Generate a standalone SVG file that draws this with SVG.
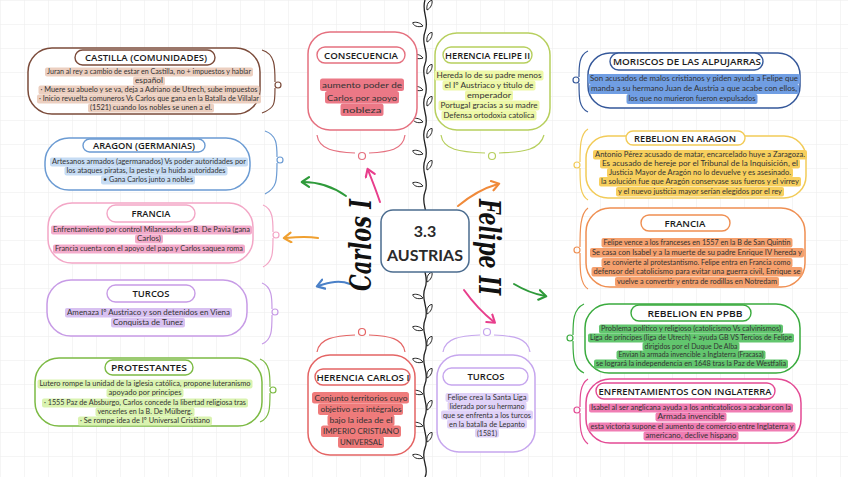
<svg xmlns="http://www.w3.org/2000/svg" width="848" height="477" viewBox="0 0 848 477">
<defs>
<pattern id="grid" width="24" height="24" patternUnits="userSpaceOnUse"><path d="M24 0H0V24" fill="none" stroke="#ececec" stroke-width="1"/></pattern>
<marker id="ah" viewBox="0 0 10 10" refX="6" refY="5" markerWidth="6" markerHeight="6" orient="auto-start-reverse"><path d="M1 1L7 5L1 9" fill="none" stroke="context-stroke" stroke-width="1.8" stroke-linecap="round" stroke-linejoin="round"/></marker>
<g id="lf"><path d="M0 0 C3 -5 8 -6 10 -4 C8 -1 4 1 0 0Z" fill="#fff" stroke="#222" stroke-width="0.9"/></g>
</defs>
<style>
.box{fill:#fff;stroke-width:1.5}
.pill{fill:#fff;stroke-width:1.4}
.t{font-family:"Open Sans","Noto Sans",sans-serif;font-weight:600;font-size:9.5px;fill:#1a1a1a;text-anchor:middle}
.b{font-family:Lato,"Open Sans",sans-serif;font-size:7.5px;fill:#333;text-anchor:middle}
.br{fill:none;stroke-width:1.2}
.ar{fill:none;stroke-width:2;stroke-linecap:round;marker-end:url(#ah)}
.vt{font-family:"DejaVu Serif",serif;font-weight:bold;font-style:italic;font-size:30px;fill:#111;text-anchor:middle}
</style>
<rect width="848" height="477" fill="#fff"/>
<rect width="848" height="477" fill="url(#grid)"/>

<g id="vine" fill="none" stroke="#222" stroke-width="1.3">
<path d="M425 0 C421 12 430 20 425 32 C420 44 430 52 425 64 C420 76 430 84 425 96 C420 108 430 116 425 128 C420 140 430 148 425 160 C420 172 430 180 425 192 C420 204 430 212 425 224 C420 236 430 244 425 256 C420 268 430 276 425 288 C420 300 430 308 425 320 C420 332 430 340 425 352 C420 364 430 372 425 384 C420 396 430 404 425 416 C420 428 430 436 425 448 C420 460 430 468 425 477"/>
<use href="#lf" transform="translate(427 10) rotate(-40)"/><use href="#lf" transform="translate(423 26) rotate(220)"/>
<use href="#lf" transform="translate(427 42) rotate(-40)"/><use href="#lf" transform="translate(423 58) rotate(220)"/>
<use href="#lf" transform="translate(427 74) rotate(-40)"/><use href="#lf" transform="translate(423 90) rotate(220)"/>
<use href="#lf" transform="translate(427 106) rotate(-40)"/><use href="#lf" transform="translate(423 122) rotate(220)"/>
<use href="#lf" transform="translate(427 138) rotate(-40)"/><use href="#lf" transform="translate(423 154) rotate(220)"/>
<use href="#lf" transform="translate(427 170) rotate(-40)"/><use href="#lf" transform="translate(423 186) rotate(220)"/>
<use href="#lf" transform="translate(427 282) rotate(-40)"/><use href="#lf" transform="translate(423 298) rotate(220)"/>
<use href="#lf" transform="translate(427 314) rotate(-40)"/><use href="#lf" transform="translate(423 330) rotate(220)"/>
<use href="#lf" transform="translate(427 346) rotate(-40)"/><use href="#lf" transform="translate(423 362) rotate(220)"/>
<use href="#lf" transform="translate(427 378) rotate(-40)"/><use href="#lf" transform="translate(423 394) rotate(220)"/>
<use href="#lf" transform="translate(427 410) rotate(-40)"/><use href="#lf" transform="translate(423 426) rotate(220)"/>
<use href="#lf" transform="translate(427 442) rotate(-40)"/><use href="#lf" transform="translate(423 458) rotate(220)"/>
</g>

<g id="connectors">
<path class="ar" stroke="#2e9a3a" d="M346 196 C332 186 318 182 303 182"/>
<path class="ar" stroke="#e83e8c" d="M380 202 C376 190 372 180 368 170"/>
<path class="ar" stroke="#f0a030" d="M318 238 C306 236 296 237 285 238"/>
<path class="ar" stroke="#4a80c8" d="M350 284 C340 280 330 282 318 286"/>
<path class="ar" stroke="#f08a3a" d="M458 206 C470 196 484 188 498 184"/>
<path class="ar" stroke="#e83e8c" d="M464 290 C474 304 484 314 494 322"/>
<path class="ar" stroke="#2e9a3a" d="M514 284 C524 290 534 294 545 296"/>
<g class="br">
<path stroke="#7b4b3a" d="M262 50 C275 54 275 66 275 82 M275 88 C275 104 275 108 262 113"/><circle cx="278" cy="85" r="3" fill="none" stroke="#7b4b3a"/>
<path stroke="#6b9bd3" d="M265 131 C277 135 277 145 277 157 M277 163 C277 180 277 188 265 194"/><circle cx="280" cy="160" r="3" fill="none" stroke="#6b9bd3"/>
<path stroke="#f3a6c6" d="M263 205 C273 209 273 220 273 232 M273 238 C273 252 273 262 263 267"/><circle cx="276" cy="235" r="3" fill="none" stroke="#f3a6c6"/>
<path stroke="#c79be6" d="M262 283 C272 287 272 298 272 309 M272 315 C272 330 272 340 262 344"/><circle cx="275" cy="312" r="3" fill="none" stroke="#c79be6"/>
<path stroke="#7cba44" d="M260 359 C270 363 270 375 270 387 M270 393 C270 408 270 418 260 422"/><circle cx="273" cy="390" r="3" fill="none" stroke="#7cba44"/>
<path stroke="#35589a" d="M588 51 C579 55 579 66 579 77 M579 83 C579 98 579 108 588 112"/><circle cx="576" cy="80" r="3" fill="none" stroke="#35589a"/>
<path stroke="#f2cb58" d="M588 129 C580 134 580 148 580 162 M580 168 C580 184 580 195 588 200"/><circle cx="577" cy="165" r="3" fill="none" stroke="#f2cb58"/>
<path stroke="#ef8f52" d="M588 208 C580 214 580 230 580 247 M580 253 C580 270 580 284 588 289"/><circle cx="577" cy="250" r="3" fill="none" stroke="#ef8f52"/>
<path stroke="#3aab3e" d="M584 304 C573 309 573 322 573 335 M573 341 C573 356 573 368 584 373"/><circle cx="570" cy="338" r="3" fill="none" stroke="#3aab3e"/>
<path stroke="#e34a94" d="M588 379 C580 384 580 396 580 407 M580 413 C580 426 580 438 588 444"/><circle cx="577" cy="410" r="3" fill="none" stroke="#e34a94"/>
<path stroke="#e5707f" d="M317 135 C319 150 335 152 355 153 M369 153 C389 152 403 150 405 135"/><circle cx="362" cy="156" r="3.5" fill="none" stroke="#e5707f"/>
<path stroke="#b7cf5e" d="M441 135 C443 150 460 152 485 153 M499 153 C524 152 540 150 544 135"/><circle cx="492" cy="156" r="3.5" fill="none" stroke="#b7cf5e"/>
<path stroke="#e46464" d="M317 352 C319 338 335 336 355 335 M369 335 C389 336 403 338 405 352"/><circle cx="362" cy="332" r="3.5" fill="none" stroke="#e46464"/>
<path stroke="#c6a6ee" d="M443 352 C445 338 460 336 480 335 M494 335 C514 336 528 338 530 352"/><circle cx="487" cy="332" r="3.5" fill="none" stroke="#c6a6ee"/>
</g>
</g>

<g id="center">
<rect x="381" y="210" width="88" height="62" rx="12" fill="#fff" stroke="#4b6c8f" stroke-width="1.5"/>
<text x="425" y="237" font-family="Lato,'Open Sans',sans-serif" font-weight="bold" font-size="16" fill="#2a2a2a" text-anchor="middle">3.3</text>
<text x="425" y="261" font-family="Lato,'Open Sans',sans-serif" font-weight="bold" font-size="16" fill="#2a2a2a" text-anchor="middle">AUSTRIAS</text>
</g>
<g id="carlos"><text class="vt" transform="translate(371 245) rotate(-90)" textLength="92" lengthAdjust="spacingAndGlyphs">Carlos  I</text></g>
<g id="felipe"><text class="vt" transform="translate(479 247) rotate(90)" textLength="96" lengthAdjust="spacingAndGlyphs">Felipe  II</text></g>

<g id="castilla">
<rect class="box" x="28" y="48" width="232" height="66" rx="24" stroke="#7b4b3a"/>
<rect class="pill" x="75" y="50" width="140" height="15" rx="7.5" stroke="#7b4b3a"/>
<text class="t" x="146" y="61" textLength="122" lengthAdjust="spacingAndGlyphs">CASTILLA (COMUNIDADES)</text>
<g fill="#eccfc0"><rect x="45" y="67.5" width="208" height="9" rx="2"/><rect x="133" y="76.5" width="32" height="9" rx="2"/><rect x="38.5" y="85.5" width="221" height="9" rx="2"/><rect x="37" y="94.5" width="224" height="9" rx="2"/><rect x="88" y="103.5" width="126" height="9" rx="2"/></g>
<text class="b" x="149" y="74" textLength="204" lengthAdjust="spacingAndGlyphs">Juran al rey a cambio de estar en Castilla, no + impuestos y hablar</text>
<text class="b" x="149" y="83" textLength="28" lengthAdjust="spacingAndGlyphs">español</text>
<text class="b" x="149" y="92" textLength="217" lengthAdjust="spacingAndGlyphs">·  Muere su abuelo y se va, deja a Adriano de Utrech, sube impuestos</text>
<text class="b" x="149" y="101" textLength="220" lengthAdjust="spacingAndGlyphs">·  Inicio revuelta comuneros Vs Carlos que gana en la Batalla de Villalar</text>
<text class="b" x="151" y="110" textLength="122" lengthAdjust="spacingAndGlyphs">(1521) cuando los nobles se unen a el.</text>
</g>

<g id="aragon">
<rect class="box" x="45" y="138" width="205" height="52" rx="24" stroke="#6b9bd3"/>
<rect class="pill" x="83" y="139" width="122" height="13" rx="6.5" stroke="#6b9bd3"/>
<text class="t" x="144" y="149" textLength="102" lengthAdjust="spacingAndGlyphs">ARAGON (GERMANIAS)</text>
<g fill="#c6dcf4"><rect x="50" y="157.5" width="198" height="9" rx="2"/><rect x="64.5" y="166.5" width="163" height="9" rx="2"/><rect x="101" y="175.5" width="94" height="9" rx="2"/></g>
<text class="b" x="149" y="164" textLength="194" lengthAdjust="spacingAndGlyphs">Artesanos armados (agermanados) Vs poder autoridades por</text>
<text class="b" x="146" y="173" textLength="159" lengthAdjust="spacingAndGlyphs">los ataques piratas, la peste y la huida autoridades</text>
<text class="b" x="148" y="182" textLength="90" lengthAdjust="spacingAndGlyphs">• Gana Carlos junto a nobles</text>
</g>

<g id="francia-l">
<rect class="box" x="48" y="203" width="205" height="60" rx="24" stroke="#f3a6c6"/>
<rect class="pill" x="107" y="205" width="88" height="17" rx="8.5" stroke="#f3a6c6"/>
<text class="t" x="151" y="217" textLength="39" lengthAdjust="spacingAndGlyphs">FRANCIA</text>
<g fill="#f3abcb"><rect x="51" y="225.5" width="201" height="9" rx="2"/><rect x="135" y="234.5" width="28" height="9" rx="2"/><rect x="53" y="244.5" width="192" height="9" rx="2"/></g>
<text class="b" x="151.5" y="232" textLength="197" lengthAdjust="spacingAndGlyphs">Enfrentamiento por control Milanesado en B. De Pavia (gana</text>
<text class="b" x="149" y="241" textLength="24" lengthAdjust="spacingAndGlyphs">Carlos)</text>
<text class="b" x="149" y="251" textLength="188" lengthAdjust="spacingAndGlyphs">Francia cuenta con el apoyo del papa y Carlos saquea roma</text>
</g>

<g id="turcos-l">
<rect class="box" x="47" y="280" width="200" height="56" rx="24" stroke="#c79be6"/>
<rect class="pill" x="107" y="285" width="88" height="17" rx="8.5" stroke="#c79be6"/>
<text class="t" x="151" y="297" textLength="37" lengthAdjust="spacingAndGlyphs">TURCOS</text>
<g fill="#d8c1f1"><rect x="65" y="308" width="167" height="9.5" rx="2"/><rect x="111" y="318" width="74" height="9.5" rx="2"/></g>
<text class="b" x="148.5" y="315" font-size="8" textLength="163" lengthAdjust="spacingAndGlyphs">Amenaza Iº Austriaco y son detenidos en Viena</text>
<text class="b" x="148" y="325" font-size="8" textLength="70" lengthAdjust="spacingAndGlyphs">Conquista de Tunez</text>
</g>

<g id="protestantes">
<rect class="box" x="35" y="358" width="227" height="68" rx="24" stroke="#7cba44"/>
<rect class="pill" x="105" y="360" width="88" height="15" rx="7.5" stroke="#7cba44"/>
<text class="t" x="149" y="371" textLength="76" lengthAdjust="spacingAndGlyphs">PROTESTANTES</text>
<g fill="#daf3b0"><rect x="37.5" y="379.5" width="215" height="9" rx="2"/><rect x="106.5" y="388.5" width="77" height="9" rx="2"/><rect x="42" y="398.5" width="206" height="9" rx="2"/><rect x="95.5" y="407.5" width="99" height="9" rx="2"/><rect x="78" y="416.5" width="134" height="9" rx="2"/></g>
<text class="b" x="145" y="386" textLength="211" lengthAdjust="spacingAndGlyphs">Lutero rompe la unidad de la iglesia católica, propone luteranismo</text>
<text class="b" x="145" y="395" textLength="73" lengthAdjust="spacingAndGlyphs">apoyado por principes</text>
<text class="b" x="145" y="405" textLength="202" lengthAdjust="spacingAndGlyphs">· 1555 Paz de Absburgo, Carlos concede la libertad religiosa tras</text>
<text class="b" x="145" y="414" textLength="95" lengthAdjust="spacingAndGlyphs">vencerles en la B. De Mülberg.</text>
<text class="b" x="145" y="423" textLength="130" lengthAdjust="spacingAndGlyphs">·  Se rompe idea de Iº Universal Cristiano</text>
</g>

<g id="consecuencia">
<rect class="box" x="308" y="32" width="109" height="98" rx="22" stroke="#e5707f"/>
<rect class="pill" x="317" y="47" width="88" height="16" rx="8" stroke="#e5707f"/>
<text class="t" x="361" y="59" textLength="74" lengthAdjust="spacingAndGlyphs">CONSECUENCIA</text>
<g fill="#eb7886"><rect x="320" y="78.5" width="84" height="12.5" rx="2.5"/><rect x="325" y="91" width="74" height="12.5" rx="2.5"/><rect x="340.5" y="103.5" width="43" height="12.5" rx="2.5"/></g>
<text class="b" x="362" y="88" font-size="10.5" textLength="80" lengthAdjust="spacingAndGlyphs">aumento poder de</text>
<text class="b" x="362" y="100.5" font-size="10.5" textLength="70" lengthAdjust="spacingAndGlyphs">Carlos por apoyo</text>
<text class="b" x="362" y="113" font-size="10.5" textLength="39" lengthAdjust="spacingAndGlyphs">nobleza</text>
</g>

<g id="herencia-felipe">
<rect class="box" x="435" y="33" width="115" height="97" rx="22" stroke="#b7cf5e"/>
<rect class="pill" x="443" y="47" width="89" height="16" rx="8" stroke="#b7cf5e"/>
<text class="t" x="487.5" y="59" textLength="85" lengthAdjust="spacingAndGlyphs">HERENCIA FELIPE II</text>
<g fill="#eef8a8"><rect x="434.5" y="70.5" width="109" height="10" rx="2"/><rect x="442.5" y="80.5" width="93" height="10" rx="2"/><rect x="465" y="90.5" width="48" height="10" rx="2"/><rect x="438.5" y="100.5" width="101" height="10" rx="2"/><rect x="441.5" y="110.5" width="95" height="10" rx="2"/></g>
<text class="b" x="489" y="78" font-size="9" textLength="105" lengthAdjust="spacingAndGlyphs">Hereda lo de su padre menos</text>
<text class="b" x="489" y="88" font-size="9" textLength="89" lengthAdjust="spacingAndGlyphs">el Iº Austriaco y titulo de</text>
<text class="b" x="489" y="98" font-size="9" textLength="44" lengthAdjust="spacingAndGlyphs">emperador</text>
<text class="b" x="489" y="108" font-size="9" textLength="97" lengthAdjust="spacingAndGlyphs">Portugal gracias a su madre</text>
<text class="b" x="489" y="118" font-size="9" textLength="91" lengthAdjust="spacingAndGlyphs">Defensa ortodoxia catolica</text>
</g>

<g id="herencia-carlos">
<rect class="box" x="308" y="355" width="107" height="100" rx="22" stroke="#e46464"/>
<rect class="pill" x="315" y="369" width="95" height="16" rx="8" stroke="#e46464"/>
<text class="t" x="363" y="381" textLength="93" lengthAdjust="spacingAndGlyphs">HERENCIA CARLOS I</text>
<g fill="#ef7b7b"><rect x="312" y="392" width="97" height="11.5" rx="2.5"/><rect x="318" y="403.5" width="85" height="11.5" rx="2.5"/><rect x="327.5" y="414.5" width="67" height="11.5" rx="2.5"/><rect x="321" y="425.5" width="80" height="11.5" rx="2.5"/><rect x="338" y="436.5" width="46" height="11.5" rx="2.5"/></g>
<text class="b" x="361" y="401" font-size="10" textLength="93" lengthAdjust="spacingAndGlyphs">Conjunto territorios cuyo</text>
<text class="b" x="361" y="412" font-size="10" textLength="81" lengthAdjust="spacingAndGlyphs">objetivo era intégralos</text>
<text class="b" x="361" y="423" font-size="10" textLength="63" lengthAdjust="spacingAndGlyphs">bajo la idea de el</text>
<text class="b" x="361" y="434" font-size="10" textLength="76" lengthAdjust="spacingAndGlyphs">IMPERIO CRISTIANO</text>
<text class="b" x="361" y="445" font-size="10" textLength="42" lengthAdjust="spacingAndGlyphs">UNIVERSAL</text>
</g>

<g id="turcos-c">
<rect class="box" x="437" y="355" width="98" height="97" rx="22" stroke="#c6a6ee"/>
<rect class="pill" x="443" y="368" width="85" height="17" rx="8.5" stroke="#c6a6ee"/>
<text class="t" x="486" y="380" textLength="37" lengthAdjust="spacingAndGlyphs">TURCOS</text>
<g fill="#e0d2f8"><rect x="445.5" y="393" width="83" height="9" rx="2"/><rect x="447.5" y="401.5" width="79" height="9" rx="2"/><rect x="441" y="410.5" width="92" height="9" rx="2"/><rect x="447" y="419.5" width="80" height="9" rx="2"/><rect x="475" y="428.5" width="24" height="9" rx="2"/></g>
<text class="b" x="487" y="400" font-size="8" textLength="79" lengthAdjust="spacingAndGlyphs">Felipe crea la Santa Liga</text>
<text class="b" x="487" y="408.5" font-size="8" textLength="75" lengthAdjust="spacingAndGlyphs">liderada por su hermano</text>
<text class="b" x="487" y="417.5" font-size="8" textLength="88" lengthAdjust="spacingAndGlyphs">que se enfrenta a los turcos</text>
<text class="b" x="487" y="426.5" font-size="8" textLength="76" lengthAdjust="spacingAndGlyphs">en la batalla de Lepanto</text>
<text class="b" x="487" y="435.5" font-size="8" textLength="20" lengthAdjust="spacingAndGlyphs">(1581)</text>
</g>

<g id="moriscos">
<rect class="box" x="588" y="53" width="212" height="55" rx="22" stroke="#35589a"/>
<rect class="pill" x="610" y="53" width="153" height="17" rx="8.5" stroke="#35589a"/>
<text class="t" x="687" y="65" font-size="10" textLength="148" lengthAdjust="spacingAndGlyphs">MORISCOS DE LAS ALPUJARRAS</text>
<g fill="#709ee3"><rect x="588" y="74" width="212" height="10" rx="2"/><rect x="589" y="84" width="210" height="10" rx="2"/><rect x="626.5" y="94" width="131" height="10" rx="2"/></g>
<text class="b" x="694" y="81" font-size="8" fill="#1d2b44" textLength="208" lengthAdjust="spacingAndGlyphs">Son acusados de malos cristianos y piden ayuda a Felipe que</text>
<text class="b" x="694" y="91" font-size="8" fill="#1d2b44" textLength="206" lengthAdjust="spacingAndGlyphs">manda a su hermano Juan de Austria a que acabe con ellos,</text>
<text class="b" x="692" y="101" font-size="8" fill="#1d2b44" textLength="127" lengthAdjust="spacingAndGlyphs">los que no murieron fueron expulsados</text>
</g>

<g id="rebelion-aragon">
<rect class="box" x="586" y="136" width="220" height="62" rx="22" stroke="#f2cb58"/>
<rect class="pill" x="626" y="131" width="119" height="14" rx="7" stroke="#f2cb58"/>
<text class="t" x="685" y="142" textLength="102" lengthAdjust="spacingAndGlyphs">REBELION EN ARAGON</text>
<g fill="#f7cf5d"><rect x="593" y="150" width="214" height="9.5" rx="2"/><rect x="600" y="159" width="200" height="9.5" rx="2"/><rect x="607" y="168" width="186" height="9.5" rx="2"/><rect x="599" y="177" width="202" height="9.5" rx="2"/><rect x="616" y="187" width="168" height="9.5" rx="2"/></g>
<text class="b" x="700" y="157" font-size="8" textLength="210" lengthAdjust="spacingAndGlyphs">Antonio Pérez acusado de matar, encarcelado huye a Zaragoza.</text>
<text class="b" x="700" y="166" font-size="8" textLength="196" lengthAdjust="spacingAndGlyphs">Es acusado de hereje por el Tribunal de la Inquisición, el</text>
<text class="b" x="700" y="175" font-size="8" textLength="182" lengthAdjust="spacingAndGlyphs">Justicia Mayor de Aragón no lo devuelve y es asesinado.</text>
<text class="b" x="700" y="184" font-size="8" textLength="198" lengthAdjust="spacingAndGlyphs">la solución fue que Aragón conservase sus fueros y el virrey</text>
<text class="b" x="700" y="194" font-size="8" textLength="164" lengthAdjust="spacingAndGlyphs">y el nuevo justicia mayor serían elegidos por el rey</text>
</g>

<g id="francia-r">
<rect class="box" x="586" y="208" width="219" height="79" rx="24" stroke="#ef8f52"/>
<rect class="pill" x="641" y="215" width="89" height="16" rx="8" stroke="#ef8f52"/>
<text class="t" x="685" y="227" textLength="41" lengthAdjust="spacingAndGlyphs">FRANCIA</text>
<g fill="#f5a06d"><rect x="601.5" y="238" width="191" height="9.5" rx="2"/><rect x="590" y="248" width="214" height="9.5" rx="2"/><rect x="601.5" y="258" width="191" height="9.5" rx="2"/><rect x="591.5" y="267" width="211" height="9.5" rx="2"/><rect x="615" y="277" width="164" height="9.5" rx="2"/></g>
<text class="b" x="697" y="245" font-size="8" textLength="187" lengthAdjust="spacingAndGlyphs">Felipe vence a los franceses en 1557 en la B de San Quintin</text>
<text class="b" x="697" y="255" font-size="8" textLength="210" lengthAdjust="spacingAndGlyphs">Se casa con Isabel y a la muerte de su padre Enrique IV hereda y</text>
<text class="b" x="697" y="265" font-size="8" textLength="187" lengthAdjust="spacingAndGlyphs">se convierte al protestantismo. Felipe entra en Francia como</text>
<text class="b" x="697" y="274" font-size="8" textLength="207" lengthAdjust="spacingAndGlyphs">defensor del catolicismo para evitar una guerra civil, Enrique se</text>
<text class="b" x="697" y="284" font-size="8" textLength="160" lengthAdjust="spacingAndGlyphs">vuelve a convertir y entra de rodillas en Notredam</text>
</g>

<g id="ppbb">
<rect class="box" x="585" y="304" width="215" height="69" rx="24" stroke="#3aab3e"/>
<rect class="pill" x="631" y="305" width="120" height="16" rx="8" stroke="#3aab3e"/>
<text class="t" x="695" y="317" textLength="95" lengthAdjust="spacingAndGlyphs">REBELION EN PPBB</text>
<g fill="#62c66e"><rect x="599" y="324.5" width="184" height="9" rx="2"/><rect x="588" y="333.5" width="206" height="9" rx="2"/><rect x="642.5" y="342" width="97" height="9" rx="2"/><rect x="616.5" y="350.5" width="149" height="9" rx="2"/><rect x="594" y="359.5" width="194" height="9" rx="2"/></g>
<text class="b" x="691" y="331" textLength="180" lengthAdjust="spacingAndGlyphs">Problema político y religioso (catolicismo Vs calvinismos)</text>
<text class="b" x="691" y="340" textLength="202" lengthAdjust="spacingAndGlyphs">Liga de príncipes (liga de Utrech) + ayuda GB VS Tercios de Felipe</text>
<text class="b" x="691" y="348.5" textLength="93" lengthAdjust="spacingAndGlyphs">dirigidos por el Duque De Alba</text>
<text class="b" x="691" y="357" textLength="145" lengthAdjust="spacingAndGlyphs">Envian la armada invencible a Inglaterra (Fracasa)</text>
<text class="b" x="691" y="366" textLength="190" lengthAdjust="spacingAndGlyphs">se logrará la independencia en 1648 tras la Paz de Westfalia</text>
</g>

<g id="inglaterra">
<rect class="box" x="586" y="379" width="215" height="64" rx="24" stroke="#e34a94"/>
<rect class="pill" x="596" y="383" width="179" height="16" rx="8" stroke="#e34a94"/>
<text class="t" x="685" y="395" font-size="10" textLength="173" lengthAdjust="spacingAndGlyphs">ENFRENTAMIENTOS CON INGLATERRA</text>
<g fill="#f07db3"><rect x="589" y="403.5" width="204" height="9" rx="2"/><rect x="655.5" y="412.5" width="71" height="9" rx="2"/><rect x="588.5" y="422.5" width="207" height="9" rx="2"/><rect x="643.5" y="431.5" width="95" height="9" rx="2"/></g>
<text class="b" x="691" y="410" textLength="200" lengthAdjust="spacingAndGlyphs">Isabel al ser anglicana ayuda a los anticatolicos a acabar con la</text>
<text class="b" x="691" y="419" textLength="67" lengthAdjust="spacingAndGlyphs">Armada invencible</text>
<text class="b" x="692" y="429" textLength="203" lengthAdjust="spacingAndGlyphs">esta victoria supone el aumento de comercio entre Inglaterra y</text>
<text class="b" x="691" y="438" textLength="91" lengthAdjust="spacingAndGlyphs">americano, declive hispano</text>
</g>
</svg>
